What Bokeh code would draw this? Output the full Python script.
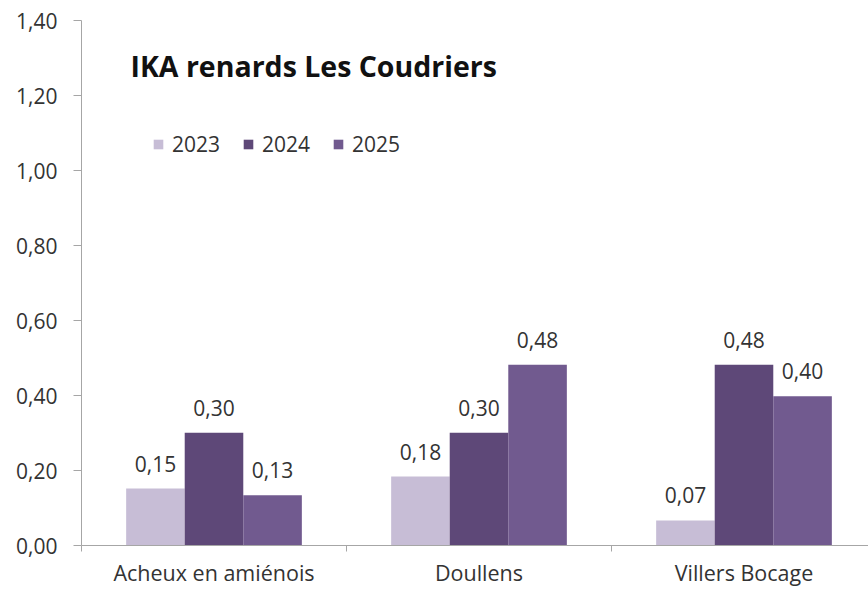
from bokeh.plotting import figure
from bokeh.models import Range1d, FixedTicker, Legend, LegendItem, Label, ColumnDataSource
from bokeh.core.properties import value
from bokeh.embed import file_html
from bokeh.resources import INLINE

categories = ["Acheux en amiénois", "Doullens", "Villers Bocage"]
years = ["2023", "2024", "2025"]
v2023 = [0.152, 0.184, 0.067]
v2024 = [0.301, 0.301, 0.482]
v2025 = [0.134, 0.482, 0.398]
y_ticks = [0.0, 0.2, 0.4, 0.6, 0.8, 1.0, 1.2, 1.4]
y_tick_labels = ["0,00", "0,20", "0,40", "0,60", "0,80", "1,00", "1,20", "1,40"]
colors = ["#C7BDD6", "#5E4878", "#715A8F"]
title_text = "IKA renards Les Coudriers"

FONT = "Open Sans"
TXT = "#333333"
W, H = 868, 589
LEFT = 81
p = figure(width=W, height=H, output_backend="svg", toolbar_location=None,
           x_range=Range1d(0, (W - LEFT) / 265.0), y_range=Range1d(0, 1.4),
           min_border_left=LEFT, min_border_right=0, min_border_top=20, min_border_bottom=0)
p.outline_line_color = None
p.grid.visible = False

series = [v2023, v2024, v2025]
bw = 0.221
offsets = [-bw, 0.0, bw]
renderers = []
for vals, off, col, yr in zip(series, offsets, colors, years):
    xs = [i + 0.5 + off for i in range(len(categories))]
    src = ColumnDataSource(dict(x=xs, top=vals,
                                lab=[f"{v:.2f}".replace(".", ",") for v in vals]))
    r = p.vbar(x="x", top="top", width=bw, source=src, fill_color=col, line_color=None)
    renderers.append(r)
    p.text(x="x", y="top", text="lab", source=src, text_align="center",
           text_baseline="alphabetic", y_offset=-25, text_font=value(FONT),
           text_font_size="21px", text_color=TXT)

# axes
xa = p.xaxis[0]
xa.ticker = FixedTicker(ticks=[i + 0.5 for i in range(len(categories))],
                        minor_ticks=list(range(len(categories) + 1)))
xa.major_label_overrides = {i + 0.5: c for i, c in enumerate(categories)}
xa.major_tick_out = 0
xa.major_tick_in = 0
xa.minor_tick_out = 6
xa.minor_tick_in = 0
xa.axis_line_color = "#A6A6A6"
xa.minor_tick_line_color = "#A6A6A6"
xa.major_label_text_font = FONT
xa.major_label_text_font_size = "21.5px"
xa.major_label_text_color = TXT
xa.major_label_standoff = 6

ya = p.yaxis[0]
ya.ticker = FixedTicker(ticks=y_ticks, minor_ticks=[])
ya.major_label_overrides = {t: l for t, l in zip(y_ticks, y_tick_labels)}
ya.major_tick_out = 8
ya.major_tick_in = 0
ya.axis_line_color = "#A6A6A6"
ya.major_tick_line_color = "#A6A6A6"
ya.major_label_text_font = FONT
ya.major_label_text_font_size = "21px"
ya.major_label_text_color = TXT
ya.major_label_standoff = 16

legend = Legend(items=[LegendItem(label=y, renderers=[r]) for y, r in zip(years, renderers)],
                orientation="horizontal", location=(71, 387),
                border_line_color=None, background_fill_alpha=0,
                padding=0, margin=0, spacing=22, label_standoff=8,
                glyph_width=12, glyph_height=12,
                label_text_font=FONT, label_text_font_size="21px",
                label_text_color=TXT)
p.add_layout(legend, "center")

p.add_layout(Label(x=49, y=480, x_units="screen", y_units="screen", text=title_text,
                   text_baseline="alphabetic",
                   text_font=FONT, text_font_size="28.5px", text_font_style="bold",
                   text_color="#111111"))

open("out.html", "w").write(file_html(p, INLINE))
